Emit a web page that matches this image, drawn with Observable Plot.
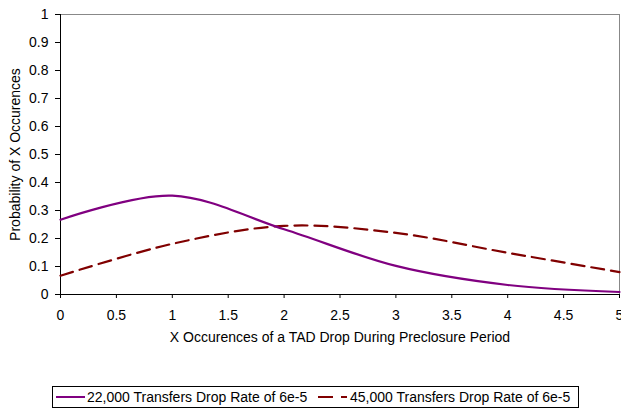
<!DOCTYPE html>
<html><head><meta charset="utf-8">
<script src="https://cdn.jsdelivr.net/npm/d3@7"></script>
<script src="https://cdn.jsdelivr.net/npm/@observablehq/plot@0.6"></script>
<style>
body{margin:0;background:#fff;font-family:"Liberation Sans",Arial,sans-serif}
#wrap{position:relative;width:621px;height:409px}
#legend{position:absolute;left:52px;top:386px;width:527px;height:22px;border:1px solid #000;box-sizing:border-box;font-size:14px;color:#000;white-space:nowrap}
#legend svg{position:absolute;top:5px}
#legend span{position:absolute;top:2px;line-height:16px}
</style></head><body><div id="wrap"></div>
<script>
const occurrences = [0, 1, 2, 3, 4, 5];
const series22k = [0.267, 0.353, 0.233, 0.102, 0.034, 0.009];
const series45k = [0.067, 0.181, 0.245, 0.220, 0.149, 0.080];
const seriesNames = ["22,000 Transfers Drop Rate of 6e-5", "45,000 Transfers Drop Rate of 6e-5"];
const seriesColors = ["#800080", "#800000"];
const xTicks = [0, 0.5, 1, 1.5, 2, 2.5, 3, 3.5, 4, 4.5, 5];
const yTicks = [0, 0.1, 0.2, 0.3, 0.4, 0.5, 0.6, 0.7, 0.8, 0.9, 1];

const d22 = occurrences.map((x, i) => ({x, y: series22k[i]}));
const d45 = occurrences.map((x, i) => ({x, y: series45k[i]}));

const chart = Plot.plot({
  width: 621, height: 409,
  marginLeft: 60, marginRight: 2, marginTop: 14, marginBottom: 115,
  style: {fontFamily: "'Liberation Sans', Arial, sans-serif", fontSize: "14px", color: "#000", background: "#fff", overflow: "visible"},
  x: {domain: [0, 5]},
  y: {domain: [0, 1]},
  marks: [
    Plot.ruleY([1], {stroke: "#888", strokeWidth: 1}),
    Plot.ruleX([5], {stroke: "#888", strokeWidth: 1}),
    Plot.axisY({ticks: yTicks, tickSize: 5, tickPadding: 7, tickFormat: d => String(d), fontSize: 14,
      label: "Probability of X Occurences", labelAnchor: "center", labelArrow: "none", labelOffset: 50, stroke: "#000"}),
    Plot.axisX({ticks: xTicks, tickSize: 4, tickPadding: 12, tickFormat: d => String(d), fontSize: 14,
      label: "X Occurences of a TAD Drop During Preclosure Period", labelAnchor: "center", labelArrow: "none", labelOffset: 47, stroke: "#000"}),
    Plot.ruleY([0], {stroke: "#000"}),
    Plot.ruleX([0], {stroke: "#000"}),
    Plot.lineY(d45, {x: "x", y: "y", stroke: seriesColors[1], strokeWidth: 2.2, strokeDasharray: "13,7", curve: "cardinal"}),
    Plot.lineY(d22, {x: "x", y: "y", stroke: seriesColors[0], strokeWidth: 2.2, curve: "cardinal"})
  ]
});
const wrap = document.getElementById("wrap");
wrap.appendChild(chart);

const legend = document.createElement("div");
legend.id = "legend";
legend.innerHTML =
  `<svg width="30" height="10" style="left:3px"><line x1="0" x2="29" y1="5" y2="5" stroke="${seriesColors[0]}" stroke-width="2"/></svg>` +
  `<span style="left:34px">${seriesNames[0]}</span>` +
  `<svg width="30" height="10" style="left:265px"><line x1="0" x2="29" y1="5" y2="5" stroke="${seriesColors[1]}" stroke-width="2" stroke-dasharray="15,8"/></svg>` +
  `<span style="left:297px">${seriesNames[1]}</span>`;
wrap.appendChild(legend);
</script>
</body></html>
